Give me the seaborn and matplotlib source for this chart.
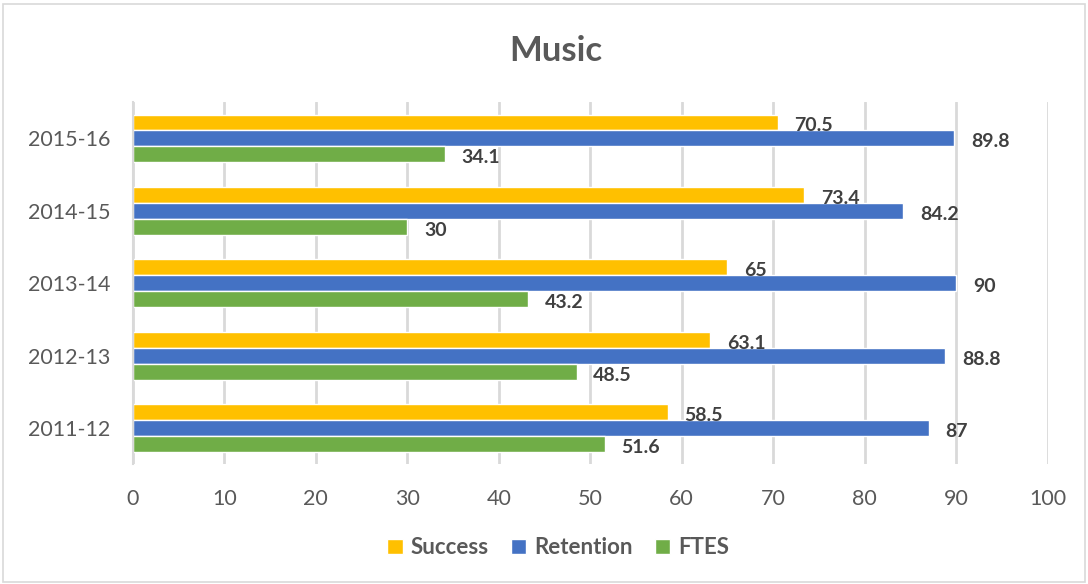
import pandas as pd
import matplotlib.pyplot as plt
import seaborn as sns
from matplotlib.patches import Patch

# data
years = ['2015-16', '2014-15', '2013-14', '2012-13', '2011-12']
success = [70.5, 73.4, 65, 63.1, 58.5]
retention = [89.8, 84.2, 90, 88.8, 87]
ftes = [34.1, 30, 43.2, 48.5, 51.6]

series = ['Success', 'Retention', 'FTES']
colors = ['#FFC000', '#4472C4', '#70AD47']

df = pd.DataFrame({
    'year': years * 3,
    'metric': ['Success'] * 5 + ['Retention'] * 5 + ['FTES'] * 5,
    'value': success + retention + ftes,
})

sns.set_theme(style='white')
plt.rcParams['font.family'] = ['Lato', 'DejaVu Sans']

fig = plt.figure(figsize=(10.88, 5.84), dpi=100)
ax = fig.add_axes([0.122, 0.205, 0.841, 0.62])

sns.barplot(data=df, y='year', x='value', hue='metric', order=years,
            hue_order=series, palette=colors, orient='h', width=0.66,
            gap=0, saturation=1, ax=ax, legend=False)

for cont in ax.containers:
    anns = ax.bar_label(cont, labels=[f'{v:g}' for v in cont.datavalues],
                        padding=12, fontsize=14, fontweight='bold', color='#404040')
    # labels sit a touch below the bar centre
    for a in anns:
        a.xyann = (12, -2.5)

ax.set_xlim(0, 100)
ax.set_xticks(range(0, 101, 10))
ax.xaxis.grid(True, color='#D9D9D9', linewidth=2)
ax.set_axisbelow(True)
ax.set_xlabel('')
ax.set_ylabel('')
for s in ['top', 'right', 'bottom']:
    ax.spines[s].set_visible(False)
ax.spines['left'].set_color('#D9D9D9')
ax.spines['left'].set_linewidth(1.5)
ax.tick_params(axis='both', length=0, labelsize=15.5, colors='#595959')
ax.tick_params(axis='x', pad=18)
ax.tick_params(axis='y', pad=16)

fig.suptitle('Music', x=0.511, y=0.94, fontsize=25, fontweight='bold', color='#595959')

handles = [Patch(facecolor=c, label=s) for c, s in zip(colors, series)]
leg = fig.legend(handles=handles, loc='center', bbox_to_anchor=(0.513, 0.062),
                 ncol=3, frameon=False, handlelength=0.7, handleheight=0.7,
                 handletextpad=0.35, columnspacing=1.0,
                 prop={'size': 16, 'weight': 'bold'})
for t in leg.get_texts():
    t.set_color('#595959')

# thin border round the whole figure
fig.patches.append(plt.Rectangle((0.003, 0.003), 0.994, 0.99, transform=fig.transFigure,
                                 fill=False, edgecolor='#D9D9D9', linewidth=1.2))

plt.savefig('out.png', dpi=100)
plt.close()
